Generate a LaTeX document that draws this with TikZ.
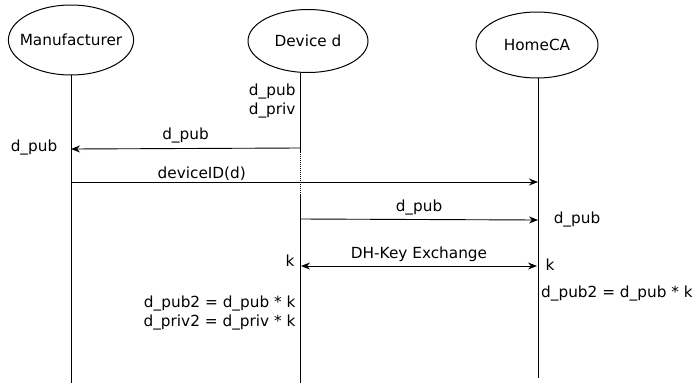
\documentclass[tikz,border=0pt]{standalone}
\usepackage{fontspec}
\setmainfont{DejaVu Sans}
\usepackage{tikz}
\usetikzlibrary{arrows.meta,shapes.geometric}

\begin{document}
\begin{tikzpicture}[x=1pt,y=-1pt,font=\fontsize{15.3}{19.5}\selectfont,
  actor/.style={draw,ellipse,line width=1pt,inner ysep=0pt},
  msg/.style={-{Stealth[length=9pt,width=7pt]},line width=0.9pt},
  life/.style={line width=1pt}]

\useasboundingbox (0,0) rectangle (692,383);

\node [actor, inner xsep=-7pt, minimum width=125pt, minimum height=70pt] (man) at (71,40) {Manufacturer};
\node [actor, inner xsep=0pt, minimum width=120pt, minimum height=63pt] (dev) at (308,41) {Device d};
\node [actor, inner xsep=0pt, minimum width=122pt, minimum height=66pt] (hca) at (537,45) {HomeCA};

\coordinate (man top) at (71,75);
\coordinate (man bot) at (71,383);
\coordinate (dev top) at (300,73);
\coordinate (dev a) at (300,152);
\coordinate (dev b) at (300,195);
\coordinate (dev bot) at (300,383);
\coordinate (hca top) at (538,78);
\coordinate (hca bot) at (538,378);

\draw [life] (man top) -- (man bot);
\draw [life] (dev top) -- (dev a);
\draw [life, densely dotted] (dev a) -- (dev b);
\draw [life] (dev b) -- (dev bot);
\draw [life] (hca top) -- (hca bot);

% messages
\coordinate (d1) at (300,148);
\coordinate (m1) at (71,149);
\coordinate (m2) at (71,182);
\coordinate (h2) at (538,182);
\coordinate (d3) at (300,219);
\coordinate (h3) at (538,220);
\coordinate (d4) at (301,266);
\coordinate (h4) at (537,266);

\draw [msg] (d1) -- (m1) node [midway, above=2pt] (l1) {d\_pub};
\draw [msg] (m2) -- (h2) node [pos=0.28, above=-2pt] (l2) {deviceID(d)};
\draw [msg] (d3) -- (h3) node [midway, above=1pt] (l3) {d\_pub};
\draw [msg, {Stealth[length=9pt,width=7pt]}-{Stealth[length=9pt,width=7pt]}] (d4) -- (h4) node [midway, above=1pt] (l4) {DH-Key Exchange};

% values
\node [anchor=east, align=right] (dkeys) at (299,101) {d\_pub\\d\_priv};
\node (mpub) at (34,147) {d\_pub};
\node (hpub) at (577,219) {d\_pub};
\node (dk) at (290,261) {k};
\node (hk) at (550,265) {k};
\node [anchor=west, inner sep=0pt] (hcalc) at (541,293) {d\_pub2 = d\_pub * k};
\node [anchor=east, align=right] (dcalc) at (299,313) {d\_pub2 = d\_pub * k\\d\_priv2 = d\_priv * k};

\end{tikzpicture}
\end{document}
